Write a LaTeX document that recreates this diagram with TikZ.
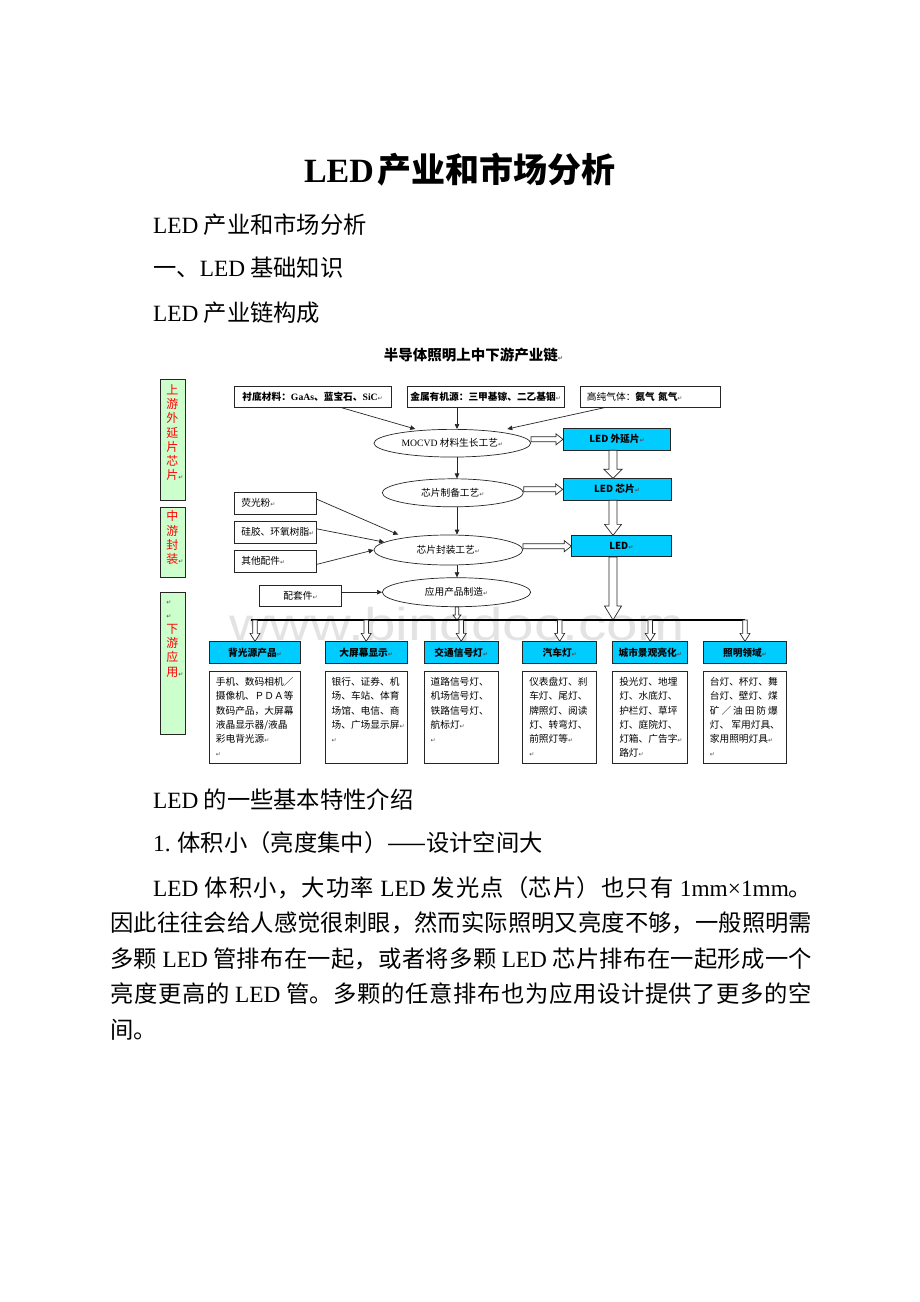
\documentclass[tikz,border=0pt]{standalone}
\usepackage{fontspec}
\usepackage{graphicx}
\setmainfont{Noto Sans CJK SC}
\newfontfamily\latfont{Liberation Serif}
\newfontfamily\markfont{DejaVu Sans}
\newfontfamily\wmfont{Liberation Sans}
\usetikzlibrary{positioning,calc,shapes.geometric,arrows.meta}
\definecolor{ledcyan}{HTML}{00CCFF}
\definecolor{palegreen}{HTML}{CCFFCC}
\XeTeXlinebreakskip=0pt plus 4pt
\newcommand{\pmark}{{\markfont\fontsize{6}{6}\selectfont\color{black!70}↵}}
% hollow arrow pointing down, from #1 to #2 (shaft half width, head half width, head length)
\newcommand{\vblock}[5]{\draw [block] let \p1 = (#1), \p2 = (#2) in
  (\x1-#3,\y1) -- (\x1-#3,\y2+#5) -- (\x1-#4,\y2+#5) -- (\x1,\y2)
  -- (\x1+#4,\y2+#5) -- (\x1+#3,\y2+#5) -- (\x1+#3,\y1) -- cycle;}
% hollow arrow pointing right, at the height of #2
\newcommand{\hblock}[2]{\draw [block] let \p1 = (#1), \p2 = (#2) in
  (\x1,\y2+2.5pt) -- (\x2-7pt,\y2+2.5pt) -- (\x2-7pt,\y2+5.5pt) -- (\x2,\y2)
  -- (\x2-7pt,\y2-5.5pt) -- (\x2-7pt,\y2-2.5pt) -- (\x1,\y2-2.5pt) -- cycle;}

\begin{document}
\begin{tikzpicture} [x=1pt, y=-1pt, node distance=7pt,
    box/.style={draw=black!85, fill=white, line width=0.7pt, inner sep=2pt,
      font=\fontsize{9.7}{12}\selectfont},
    leftbox/.style={box, inner xsep=7pt, align=left},
    cyanbox/.style={box, fill=ledcyan, font=\fontsize{9.7}{12}\selectfont\bfseries},
    sidebox/.style={draw=black!85, fill=palegreen, line width=0.7pt, inner sep=0pt,
      minimum width=25.3pt},
    sidetext/.style={align=left, inner sep=0pt, text=red,
      font=\fontsize{12}{14.3}\selectfont},
    boxtext/.style={align=left, inner sep=0pt, font=\fontsize{9.7}{14.2}\selectfont},
    proc/.style={ellipse, draw=black!85, fill=white, line width=0.7pt, inner sep=0pt,
      font=\fontsize{9.7}{12}\selectfont},
    link/.style={draw=black!85, line width=0.7pt, -{Triangle[length=5pt,width=4.5pt]}},
    block/.style={draw=black!85, fill=white, line width=0.7pt},
    body/.style={anchor=west, inner sep=0pt, font=\fontsize{23.3}{28}\selectfont}]
    \fill [white] (0,0) rectangle (920,1302);
    \useasboundingbox (0,0) rectangle (920,1302);
    % page text
    \node [font=\fontsize{34}{40}\selectfont\bfseries] (title) at (460,170)
      {{\latfont LED}\hspace{4pt}产业和市场分析};
    \node [body] (l1) at (153,225) {{\latfont LED} 产业和市场分析};
    \node [body] (l2) at (153,268) {一、{\latfont LED} 基础知识};
    \node [body] (l3) at (153,313) {{\latfont LED} 产业链构成};
    \node [body] (l4) at (153,800) {{\latfont LED} 的一些基本特性介绍};
    \node [body] (l5) at (153,843) {{\latfont 1.} 体积小（亮度集中）——设计空间大};
    \node [body, text width=702pt, align=justify, font=\fontsize{23.3}{35.5}\selectfont]
      (para) at (110,958)
      {\XeTeXlinebreaklocale "zh"\hspace*{43pt}{\latfont LED} 体积小，大功率 {\latfont LED} 发光点（芯片）也只有 {\latfont 1mm×1mm}。\linebreak
       因此往往会给人感觉很刺眼，然而实际照明又亮度不够，一般照明需\linebreak
       多颗 {\latfont LED} 管排布在一起，或者将多颗 {\latfont LED} 芯片排布在一起形成一个\linebreak
       亮度更高的 {\latfont LED} 管。多颗的任意排布也为应用设计提供了更多的空\linebreak
       间。};
    % watermark
    \node [text=black!11, font=\wmfont\fontsize{46}{46}\selectfont, anchor=base, inner sep=0pt]
      (wmark) at (457,640) {\scalebox{1.23}[1]{www.bingdoc.com}};
    % diagram title
    \node [font=\fontsize{14.5}{16}\selectfont\bfseries] (chain) at (473.5,355)
      {半导体照明上中下游产业链\pmark};
    % side labels
    \node [sidebox, minimum height=120.7pt] (up) at (172.7,439.7) {};
    \node [sidebox, minimum height=70.7pt] (mid) at (172.7,542.4) {};
    \node [sidebox, minimum height=142pt] (down) at (172.7,663) {};
    \node [sidetext, below right = 5pt and 6.5pt of up.north west] (uptext)
      {上\\游\\外\\延\\片\\芯\\片\pmark};
    \node [sidetext, below right = 4pt and 6.5pt of mid.north west] (midtext)
      {中\\游\\封\\装\pmark};
    \node [sidetext, below right = 9pt and 6.5pt of down.north west] (downtext)
      {\pmark\\\pmark\\下\\游\\应\\用\pmark};
    % raw materials
    \node [box, minimum width=156.7pt, minimum height=21.3pt] (sub) at (312.6,396.7)
      {\textbf{衬底材料：{\latfont GaAs}、蓝宝石、{\latfont SiC}}\pmark};
    \node [box, minimum width=156.7pt, minimum height=21.3pt] (mo) at (485.6,396.7)
      {\textbf{金属有机源：三甲基镓、二乙基铟}\pmark};
    \node [leftbox, text width=126.7pt, minimum height=21.3pt] (gas) at (650.3,396.7)
      {高纯气体：\textbf{氨气 氮气}\pmark};
    % process steps
    \node [proc, minimum width=156.7pt, minimum height=27.7pt] (mocvd) at (452.3,443.2)
      {{\latfont MOCVD} 材料生长工艺\pmark};
    \node [proc, minimum width=141pt, minimum height=28pt] (chipproc) at (452.8,492.8)
      {芯片制备工艺\pmark};
    \node [proc, minimum width=148.7pt, minimum height=30pt] (pack) at (448.3,550)
      {芯片封装工艺\pmark};
    \node [proc, minimum width=148.3pt, minimum height=29pt] (app) at (456.5,592.2)
      {应用产品制造\pmark};
    % products
    \node [cyanbox, minimum width=107.4pt, minimum height=21.3pt] (epi) at (617,439.3)
      {LED 外延片\pmark};
    \node [cyanbox, minimum width=108pt, minimum height=21.3pt] (chip) at (617,489.3)
      {LED 芯片\pmark};
    \node [cyanbox, minimum width=99.3pt, minimum height=21pt] (led) at (621.3,546.2)
      {LED\pmark};
    % packaging materials
    \node [leftbox, text width=68.4pt, minimum height=21.3pt] (phos) at (275.5,503.3)
      {荧光粉\pmark};
    \node [leftbox, text width=68.4pt, minimum height=21.3pt, below = of phos] (glue)
      {\mbox{硅胶、环氧树脂\pmark}};
    \node [leftbox, text width=68.4pt, minimum height=21.3pt, below = of glue] (parts)
      {其他配件\pmark};
    \node [box, minimum width=82.4pt, minimum height=21.7pt] (kit) at (300.5,595.8)
      {配套件\pmark};
    % applications
    \node [cyanbox, minimum width=91.4pt, minimum height=21.6pt] (b1) at (255,652.5)
      {背光源产品\pmark};
    \node [cyanbox, minimum width=82.3pt, minimum height=21.6pt] (b2) at (366.2,652.5)
      {大屏幕显示\pmark};
    \node [cyanbox, minimum width=74.3pt, minimum height=21.6pt] (b3) at (461.2,652.5)
      {交通信号灯\pmark};
    \node [cyanbox, minimum width=74pt, minimum height=21.6pt] (b4) at (559.7,652.5)
      {汽车灯\pmark};
    \node [cyanbox, minimum width=75pt, minimum height=21.6pt] (b5) at (650.2,652.5)
      {城市景观亮化\pmark};
    \node [cyanbox, minimum width=83.4pt, minimum height=21.6pt] (b6) at (745,652.5)
      {照明领域\pmark};
    \node [box, minimum width=91.4pt, minimum height=92.7pt, below = of b1] (t1) {};
    \node [box, minimum width=82.3pt, minimum height=92.7pt, below = of b2] (t2) {};
    \node [box, minimum width=74.3pt, minimum height=92.7pt, below = of b3] (t3) {};
    \node [box, minimum width=74pt, minimum height=92.7pt, below = of b4] (t4) {};
    \node [box, minimum width=75pt, minimum height=92.7pt, below = of b5] (t5) {};
    \node [box, minimum width=83.4pt, minimum height=92.7pt, below = of b6] (t6) {};
    \node [boxtext, below right = 6.6pt and 6.7pt of t1.north west] (t1text)
      {手机、数码相机／\\摄像机、ＰＤＡ等\\数码产品，大屏幕\\液晶显示器/液晶\\彩电背光源\pmark\\\pmark};
    \node [boxtext, below right = 6.6pt and 6.7pt of t2.north west] (t2text)
      {银行、证券、机\\场、车站、体育\\场馆、电信、商\\场、广场显示屏\pmark\\\pmark};
    \node [boxtext, below right = 6.6pt and 6.7pt of t3.north west] (t3text)
      {道路信号灯、\\机场信号灯、\\铁路信号灯、\\航标灯\pmark\\\pmark};
    \node [boxtext, below right = 6.6pt and 6.7pt of t4.north west] (t4text)
      {仪表盘灯、刹\\车灯、尾灯、\\牌照灯、阅读\\灯、转弯灯、\\前照灯等\pmark\\\pmark};
    \node [boxtext, below right = 6.6pt and 6.7pt of t5.north west] (t5text)
      {投光灯、地埋\\灯、水底灯、\\护栏灯、草坪\\灯、庭院灯、\\灯箱、广告字\pmark\\路灯\pmark};
    \node [boxtext, below right = 6.6pt and 6.7pt of t6.north west] (t6text)
      {台灯、杯灯、舞\\台灯、壁灯、煤\\\makebox[68pt][s]{矿 ／ 油 田 防 爆}\\灯、\ 军用灯具、\\家用照明灯具\pmark\\\pmark};
    % guide lines
    \coordinate (axis) at (457,0);
    \coordinate (col) at (613,0);
    \coordinate (barL) at (251,620);
    \coordinate (barR) at (745,620);
    % draw edges
    \draw [link] ([xshift=29pt]sub.south) -- ([xshift=-37pt]mocvd.north);
    \draw [link] (mo.south -| axis) -- (mocvd.north -| axis);
    \draw [link] ([xshift=-46pt]gas.south) -- ([xshift=55pt]mocvd.north);
    \draw [link] (mocvd.south -| axis) -- (chipproc.north -| axis);
    \draw [link] (chipproc.south -| axis) -- (pack.north -| axis);
    \draw [link] (pack.south -| axis) -- (app.north -| axis);
    \draw [link] ([yshift=4pt]phos.east) -- ([xshift=-50pt]pack.north);
    \draw [link] ([yshift=3.4pt]glue.east) -- (pack.173);
    \draw [link] ([yshift=-3pt]parts.east) -- (pack.west);
    \draw [link] (kit.east |- app.west) -- (app.west);
    % hollow arrows
    \hblock{mocvd.east}{epi.west}
    \hblock{chipproc.east}{chip.west}
    \hblock{pack.east}{led.west}
    \vblock{epi.south -| col}{chip.north -| col}{4pt}{9pt}{9pt}
    \vblock{chip.south -| col}{led.north -| col}{4pt}{8.5pt}{11pt}
    \vblock{led.south -| col}{barL -| col}{4pt}{8.5pt}{14pt}
    \vblock{app.south -| axis}{barL -| axis}{1.8pt}{4pt}{5pt}
    % distribution bar
    \draw [line width=2.5pt] (barL) -- (barR);
    \vblock{b1.north |- barL}{b1.north}{2.3pt}{5pt}{8pt}
    \vblock{b2.north |- barL}{b2.north}{2.3pt}{5pt}{8pt}
    \vblock{b3.north |- barL}{b3.north}{2.3pt}{5pt}{8pt}
    \vblock{b4.north |- barL}{b4.north}{2.3pt}{5pt}{8pt}
    \vblock{b5.north |- barL}{b5.north}{2.3pt}{5pt}{8pt}
    \vblock{b6.north |- barL}{b6.north}{2.3pt}{5pt}{8pt}
  \end{tikzpicture}
\end{document}
